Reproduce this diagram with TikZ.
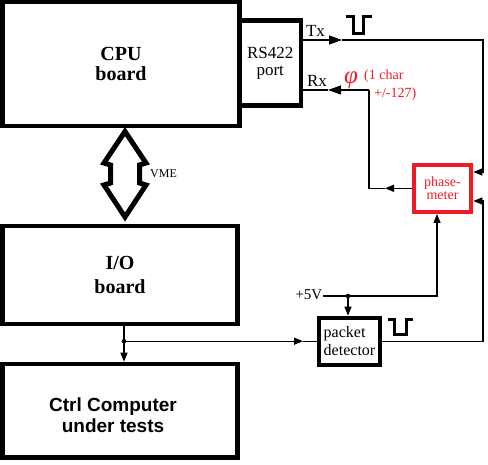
\documentclass[tikz,border=0pt]{standalone}
\usepackage{fontspec}
\setmainfont{Liberation Serif}
\newfontfamily\arialfont{Liberation Sans}
\usetikzlibrary{arrows.meta,calc}
\definecolor{pred}{RGB}{237,28,36}
\begin{document}
\begin{tikzpicture}[x=1pt,y=-1pt,
  bigbox/.style={draw, line width=4.5pt, inner sep=0pt, align=center},
  smallbox/.style={draw, line width=4pt, inner sep=0pt},
  wire/.style={line width=1.3pt},
  arr/.style={-{Triangle[length=9pt,width=7pt]}},
  bigarr/.style={-{Triangle[length=13pt,width=9pt]}},
  pulse/.style={line width=3pt, line join=miter},
  lbl/.style={inner sep=0pt}]
\useasboundingbox (0,0) rectangle (488,465);

% boxes
\node[bigbox, minimum width=237pt, minimum height=124pt,
      font=\bfseries\fontsize{20}{20}\selectfont] (cpu) at (121,64) {CPU\\board};
\node[bigbox, minimum width=61.5pt, minimum height=85pt,
      font=\fontsize{17}{17}\selectfont] (rs) at (270.25,63) {RS422\\port};
\node[bigbox, minimum width=235pt, minimum height=98pt,
      font=\bfseries\fontsize{20}{24}\selectfont] (io) at (120,275) {I/O\\board};
\node[bigbox, minimum width=235pt, minimum height=93.5pt] (ctrl) at (120,410.75) {};
\node[lbl, align=center, font=\arialfont\bfseries\fontsize{19}{21}\selectfont]
      (ctrltxt) at (113,415.6) {Ctrl Computer\\under tests};
\node[smallbox, draw=pred, text=pred, minimum width=57.6pt, minimum height=47.3pt,
      align=center, font=\fontsize{14}{12.6}\selectfont] (pm) at (442.5,188.3) {phase-\\meter};
\node[smallbox, minimum width=61pt, minimum height=47pt,
      align=left, font=\fontsize{16}{18}\selectfont] (pd) at (349.5,341.2) {packet\\detector};

% VME double arrow
\draw[line width=5pt, line join=miter, miter limit=10]
  (125,131.5) -- (104,163) -- (110.5,165) -- (110.5,183) -- (104,185) -- (125,217)
  -- (146,185) -- (139.5,183) -- (139.5,165) -- (146,163) -- cycle;
\node[lbl, anchor=base west, font=\fontsize{12}{12}\selectfont] (vme) at (150,178) {VME};

% labels
\node[lbl, anchor=base, font=\fontsize{17}{17}\selectfont] (tx) at (315.5,37) {Tx};
\node[lbl, anchor=base, font=\fontsize{17}{17}\selectfont] (rx) at (317,87) {Rx};
\node[lbl, anchor=base west, text=pred, font=\itshape\fontsize{25}{25}\selectfont] (phi) at (344,84) {φ};
\node[lbl, anchor=base west, text=pred, font=\fontsize{14}{14}\selectfont] (ch1) at (364,80) {(1 char};
\node[lbl, anchor=base west, text=pred, font=\fontsize{14}{14}\selectfont] (ch2) at (374,97.5) {+/-127)};
\node[lbl, anchor=base east, font=\fontsize{15}{15}\selectfont] (v5) at (322.5,299.5) {+5V};

% coordinates
\coordinate (txR) at (483,40);
\coordinate (txtip) at (342,40);
\coordinate (rxC) at (369,90);
\coordinate (rxtip) at (328,90);
\coordinate (pmLtip) at (385,188.3);
\coordinate (pmTx) at ($(pm.east)+(0,-16.3)$);
\coordinate (pmPd) at ($(pm.east)+(0,12.7)$);
\coordinate (pmB) at ($(pm.south)+(-5.5,0)$);
\coordinate (j5) at (348,296);
\coordinate (jio) at (124,341.2);
\coordinate (pdtip) at (303,341.2);

% Tx path
\draw[wire, bigarr] (rs.east |- txR) -- (txtip);
\draw[wire, arr] (txtip) -- (txR) -- (txR |- pmTx) -- (pmTx);
% Rx path
\draw[wire, bigarr] (rxC) -- (rxtip);
\draw[wire] (rxtip) -- (rs.east |- rxC);
\draw[wire, arr] (pm.west) -- (pmLtip);
\draw[wire] (pmLtip) -- (rxC |- pm.west) -- (rxC);
% packet detector output
\draw[wire, arr] (pd.east) -- (txR |- pd.east) -- (txR |- pmPd) -- (pmPd);
% +5V
\draw[wire, arr] (v5.east |- j5) -- (pmB |- j5) -- (pmB);
\draw[wire, arr] (j5) -- (j5 |- pd.north);
\fill (j5) circle[radius=2.3pt];
% I/O to ctrl and packet detector
\draw[wire, arr] (io.south -| jio) -- (jio |- ctrl.north);
\draw[wire, arr] (jio) -- (pdtip);
\draw[wire] (pdtip) -- (pd.west);
\fill (jio) circle[radius=2.3pt];

% pulses
\draw[pulse] (346,17) -- (353,17) -- (353,33.5) -- (363,33.5) -- (363,17) -- (372,17);
\draw[pulse] (388,320) -- (394,320) -- (394,335) -- (406,335) -- (406,320) -- (413,320);
\end{tikzpicture}
\end{document}
